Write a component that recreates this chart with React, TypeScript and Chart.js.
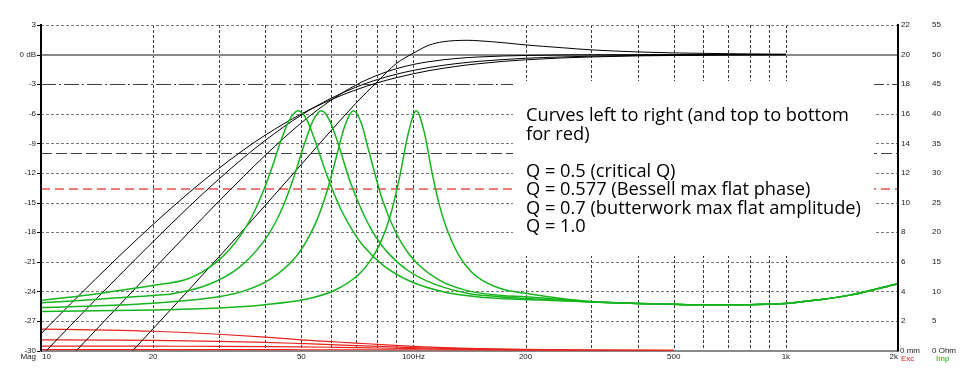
import React, { useEffect, useRef } from "react";
import { Chart, registerables } from "chart.js";
Chart.register(...registerables);

// ---------- data ----------
const splFreq = [10, 12, 14, 16, 18, 20, 25, 30, 35, 40, 50, 60, 70, 80, 90, 100, 110, 120, 130, 140, 150, 175, 200, 250, 300, 400, 500, 700, 1000];
const splQ050 = [-28.3, -25.28, -22.77, -20.64, -18.81, -17.21, -13.98, -11.55, -9.66, -8.17, -6.02, -4.58, -3.58, -2.86, -2.34, -1.94, -1.63, -1.39, -1.2, -1.04, -0.92, -0.68, -0.53, -0.34, -0.24, -0.13, -0.09, -0.04, -0.02];
const splQ058 = [-30.58, -27.47, -24.86, -22.63, -20.68, -18.96, -15.4, -12.64, -10.45, -8.7, -6.13, -4.44, -3.31, -2.53, -1.99, -1.6, -1.31, -1.09, -0.92, -0.79, -0.68, -0.5, -0.37, -0.24, -0.16, -0.09, -0.06, -0.03, -0.015];
const splQ070 = [-33.81, -30.65, -27.97, -25.66, -23.62, -21.81, -17.98, -14.89, -12.35, -10.21, -6.92, -4.64, -3.1, -2.09, -1.43, -1.0, -0.72, -0.53, -0.4, -0.3, -0.24, -0.14, -0.09, -0.04, -0.02, -0.01, 0, 0, 0];
const splQ100 = [-39.96, -36.78, -34.07, -31.73, -29.65, -27.79, -23.82, -20.54, -17.74, -15.29, -11.14, -7.74, -4.95, -2.74, -0.9, 0.15, 0.95, 1.3, 1.42, 1.45, 1.4, 1.2, 0.98, 0.7, 0.48, 0.27, 0.17, 0.09, 0.04];

const impFreqQ050 = [10, 13, 16, 20, 24.5, 27, 29.4, 31.9, 34.3, 36.8, 39.2, 41.7, 44.1, 46.6, 49, 51.5, 53.9, 58.8, 63.7, 68.6, 73.5, 83.3, 98, 122.5, 147, 200, 250, 300, 400, 500, 600, 700, 800, 1000, 1200, 1500, 2000];
const impQ050 = [8.5, 9.3, 10.1, 11.0, 12.0, 13.2, 14.8, 16.9, 19.4, 22.6, 26.4, 30.9, 35.5, 39.1, 40.5, 39.2, 36.2, 29.3, 24.0, 20.3, 17.6, 14.3, 11.7, 9.8, 9.1, 8.6, 8.4, 8.2, 7.95, 7.8, 7.72, 7.72, 7.75, 7.95, 8.5, 9.4, 11.3];
const impFreqQ058 = [10, 13, 16, 20, 22.6, 28.3, 34, 39.6, 42.5, 45.3, 48.1, 50.9, 53.8, 56.6, 59.4, 62.3, 67.9, 73.6, 79.2, 84.9, 96.2, 113, 141.5, 170, 200, 250, 300, 400, 500, 600, 700, 800, 1000, 1200, 1500, 2000];
const impQ058 = [8.05, 8.5, 8.9, 9.3, 9.6, 11.2, 14.0, 18.4, 21.5, 25.3, 29.9, 34.8, 38.9, 40.5, 39.0, 35.6, 28.2, 22.9, 19.2, 16.7, 13.6, 11.3, 9.6, 9.1, 8.8, 8.45, 8.2, 7.95, 7.8, 7.72, 7.72, 7.75, 7.95, 8.5, 9.4, 11.3];
const impFreqQ070 = [10, 15, 20, 25, 30, 34.5, 41.4, 48.3, 51.75, 55.2, 58.65, 62.1, 65.55, 69, 72.45, 75.9, 82.8, 89.7, 96.6, 103.5, 117.3, 138, 172.5, 200, 250, 300, 400, 500, 600, 700, 800, 1000, 1200, 1500, 2000];
const impQ070 = [7.25, 7.6, 8.0, 8.5, 9.1, 9.9, 12.1, 15.8, 18.6, 22.2, 27.0, 32.7, 38.1, 40.5, 38.4, 33.7, 25.2, 19.9, 16.55, 14.4, 11.9, 10.2, 9.3, 9.1, 8.6, 8.25, 7.95, 7.8, 7.72, 7.72, 7.75, 7.95, 8.5, 9.4, 11.3];
const impFreqQ100 = [10, 20, 30, 40, 50.9, 61.1, 71.3, 76.35, 81.4, 86.5, 91.6, 96.7, 101.8, 106.9, 112, 117, 122.2, 132.3, 142.5, 152.7, 173, 203.6, 250, 300, 400, 500, 600, 700, 800, 1000, 1200, 1500, 2000];
const impQ100 = [6.6, 6.85, 7.2, 7.75, 8.6, 10.1, 12.85, 15.05, 18.1, 22.6, 29.0, 36.5, 40.5, 36.9, 30.3, 24.9, 21.0, 16.1, 13.4, 11.9, 10.4, 9.6, 8.8, 8.3, 7.95, 7.8, 7.72, 7.72, 7.75, 7.95, 8.5, 9.4, 11.3];

const excFreq = [10, 15, 20, 30, 40, 50, 60, 70, 80, 100, 120, 150, 200, 300, 500];
const excQ050 = [1.44, 1.38, 1.3, 1.1, 0.9, 0.72, 0.6, 0.5, 0.42, 0.28, 0.2, 0.13, 0.07, 0.03, 0.01];
const excQ058 = [0.72, 0.7, 0.68, 0.62, 0.55, 0.47, 0.4, 0.33, 0.28, 0.2, 0.14, 0.09, 0.05, 0.02, 0.01];
const excQ070 = [0.3, 0.3, 0.29, 0.28, 0.26, 0.24, 0.22, 0.2, 0.17, 0.12, 0.09, 0.06, 0.03, 0.01, 0];
const excQ100 = [0.06, 0.06, 0.06, 0.06, 0.06, 0.05, 0.05, 0.05, 0.05, 0.04, 0.03, 0.02, 0.01, 0, 0];

const dbTicks = [3, 0, -3, -6, -9, -12, -15, -18, -21, -24, -27, -30];
const dbLabels = ["3", "0 dB", "-3", "-6", "-9", "-12", "-15", "-18", "-21", "-24", "-27", "-30"];
const mmTicks = [22, 20, 18, 16, 14, 12, 10, 8, 6, 4, 2];
const ohmTicks = [55, 50, 45, 40, 35, 30, 25, 20, 15, 10, 5];
const freqGrid = [20, 30, 40, 50, 60, 70, 80, 90, 100, 200, 300, 400, 500, 600, 700, 800, 900, 1000];
const freqTicks = [10, 20, 50, 100, 200, 500, 1000, 2000];
const freqLabels = ["10", "20", "50", "100Hz", "200", "500", "1k", "2k"];
const refLevelDb = -10;
const excLimitDb = -13.6;

const noteLines = [
  "Curves left to right (and top to bottom",
  "for red)",
  "",
  "Q = 0.5 (critical Q)",
  "Q = 0.577 (Bessell max flat phase)",
  "Q = 0.7 (butterwork max flat amplitude)",
  "Q = 1.0",
];

const zip = (xs: number[], ys: number[]) => xs.map((x, i) => ({ x, y: ys[i] }));

const BOX = { x0: 513, y0: 81, x1: 874, y1: 256 };
const SMALL = "8px 'Liberation Sans', Arial, sans-serif";

const lspPlugin = {
  id: "lsp",
  beforeDatasetsDraw(chart: any) {
    const { ctx, chartArea: a, scales } = chart;
    const sx = scales.x, sy = scales.y;
    const r = (v: number) => Math.round(v) + 0.5;
    ctx.save();
    ctx.fillStyle = "#fff";
    ctx.fillRect(0, 0, chart.width, chart.height);
    ctx.lineWidth = 1;
    ctx.strokeStyle = "#3a3a3a";
    ctx.setLineDash([3, 2]);
    for (const f of freqGrid) {
      const px = r(sx.getPixelForValue(f));
      ctx.beginPath();
      ctx.moveTo(px, a.top);
      ctx.lineTo(px, a.bottom);
      ctx.stroke();
    }
    for (const v of dbTicks) {
      if (v === 0 || v === -30) continue;
      const py = r(sy.getPixelForValue(v));
      ctx.beginPath();
      if (v === -3) {
        ctx.strokeStyle = "#404040";
        ctx.setLineDash([15, 3, 2, 3]);
      } else {
        ctx.strokeStyle = "#7a7a7a";
        ctx.setLineDash([3, 2]);
      }
      ctx.moveTo(a.left, py);
      ctx.lineTo(a.right, py);
      ctx.stroke();
    }
    ctx.strokeStyle = "#404040";
    ctx.setLineDash([11, 4]);
    let py = r(sy.getPixelForValue(refLevelDb));
    ctx.beginPath();
    ctx.moveTo(a.left, py);
    ctx.lineTo(a.right, py);
    ctx.stroke();
    ctx.strokeStyle = "#f07a7a";
    ctx.lineWidth = 2;
    ctx.setLineDash([9, 5]);
    py = Math.round(sy.getPixelForValue(excLimitDb));
    ctx.beginPath();
    ctx.moveTo(a.left, py);
    ctx.lineTo(a.right, py);
    ctx.stroke();
    ctx.setLineDash([]);
    ctx.strokeStyle = "#8a8a8a";
    ctx.lineWidth = 2;
    py = Math.round(sy.getPixelForValue(0));
    ctx.beginPath();
    ctx.moveTo(a.left, py);
    ctx.lineTo(a.right, py);
    ctx.stroke();
    py = Math.round(sy.getPixelForValue(-30));
    ctx.beginPath();
    ctx.moveTo(a.left, py);
    ctx.lineTo(a.right, py);
    ctx.stroke();
    ctx.fillStyle = "#fff";
    ctx.fillRect(BOX.x0, BOX.y0, BOX.x1 - BOX.x0, BOX.y1 - BOX.y0);
    ctx.restore();
  },
  afterDraw(chart: any) {
    const { ctx, chartArea: a, scales } = chart;
    const sx = scales.x, sy = scales.y;
    ctx.save();
    ctx.strokeStyle = "#000";
    ctx.lineWidth = 2;
    ctx.beginPath();
    ctx.moveTo(Math.round(a.left), a.top - 1);
    ctx.lineTo(Math.round(a.left), a.bottom + 1);
    ctx.moveTo(Math.round(a.right), a.top - 1);
    ctx.lineTo(Math.round(a.right), a.bottom + 1);
    ctx.stroke();
    ctx.font = SMALL;
    ctx.fillStyle = "#1a1a1a";
    ctx.textBaseline = "middle";
    ctx.lineWidth = 1;
    dbTicks.forEach((v, i) => {
      const py = sy.getPixelForValue(v);
      ctx.textAlign = "right";
      ctx.fillText(dbLabels[i], 36, py);
      ctx.beginPath();
      ctx.moveTo(37, Math.round(py) + 0.5);
      ctx.lineTo(40, Math.round(py) + 0.5);
      ctx.stroke();
    });
    ctx.textAlign = "left";
    mmTicks.forEach((v, i) => {
      const py = sy.getPixelForValue(dbTicks[i]);
      ctx.fillText(String(v), 901, py);
      ctx.fillText(String(ohmTicks[i]), 932, py);
    });
    const pb = sy.getPixelForValue(-30);
    ctx.fillText("0 mm", 900, pb);
    ctx.fillText("0 Ohm", 932, pb);
    ctx.fillStyle = "#e02020";
    ctx.fillText("Exc", 901, pb + 8);
    ctx.fillStyle = "#10b010";
    ctx.fillText("Imp", 936, pb + 8);
    ctx.fillStyle = "#1a1a1a";
    ctx.textAlign = "right";
    ctx.fillText("Mag", 36, pb + 6);
    freqTicks.forEach((f, i) => {
      const px = sx.getPixelForValue(f);
      ctx.textAlign = i === 0 ? "left" : i === freqTicks.length - 1 ? "right" : "center";
      ctx.fillText(freqLabels[i], i === 0 ? px + 1 : px, pb + 6);
    });
    let size = 16;
    ctx.font = `${size}px 'Open Sans', sans-serif`;
    const w = ctx.measureText(noteLines[0]).width;
    size = (size * 323) / w;
    ctx.font = `${size}px 'Open Sans', sans-serif`;
    ctx.fillStyle = "#000";
    ctx.textAlign = "left";
    ctx.textBaseline = "alphabetic";
    noteLines.forEach((t, i) => {
      ctx.fillText(t, 526, 121 + i * 18.5);
    });
    ctx.restore();
  },
};

export default function App() {
  const ref = useRef<HTMLCanvasElement>(null);
  useEffect(() => {
    const canvas = ref.current!;
    const green = "#16b41e";
    const red = "#e8231e";
    const mk = (data: any[], color: string, yAxisID: string, bw: number) => ({
      data,
      borderColor: color,
      borderWidth: bw,
      pointRadius: 0,
      fill: false,
      yAxisID,
      cubicInterpolationMode: "monotone" as const,
    });
    const chart = new Chart(canvas, {
      type: "line",
      data: {
        datasets: [
          mk(zip(impFreqQ050, impQ050), green, "yImp", 1.5),
          mk(zip(impFreqQ058, impQ058), green, "yImp", 1.5),
          mk(zip(impFreqQ070, impQ070), green, "yImp", 1.5),
          mk(zip(impFreqQ100, impQ100), green, "yImp", 1.5),
          mk(zip(splFreq, splQ050), "#000", "y", 1),
          mk(zip(splFreq, splQ058), "#000", "y", 1),
          mk(zip(splFreq, splQ070), "#000", "y", 1),
          mk(zip(splFreq, splQ100), "#000", "y", 1),
          mk(zip(excFreq, excQ050), red, "yExc", 1.2),
          mk(zip(excFreq, excQ058), red, "yExc", 1.2),
          mk(zip(excFreq, excQ070), red, "yExc", 1.2),
          mk(zip(excFreq, excQ100), red, "yExc", 1.2),
        ],
      },
      options: {
        responsive: false,
        animation: false,
        devicePixelRatio: 1,
        layout: { padding: { left: 41, right: 78, top: 25, bottom: 31.5 } },
        plugins: { legend: { display: false }, tooltip: { enabled: false } },
        scales: {
          x: { type: "logarithmic", min: 10, max: 2000, display: false },
          y: { type: "linear", min: -30, max: 3, display: false },
          yImp: { type: "linear", min: 0, max: 55, display: false },
          yExc: { type: "linear", min: 0, max: 22, display: false },
        },
      },
      plugins: [lspPlugin],
    });
    return () => chart.destroy();
  }, []);
  return (
    <div style={{ position: "absolute", left: 0, top: 0, width: 976, height: 382, background: "#fff" }}>
      <canvas ref={ref} width={976} height={382} style={{ display: "block" }} />
    </div>
  );
}
